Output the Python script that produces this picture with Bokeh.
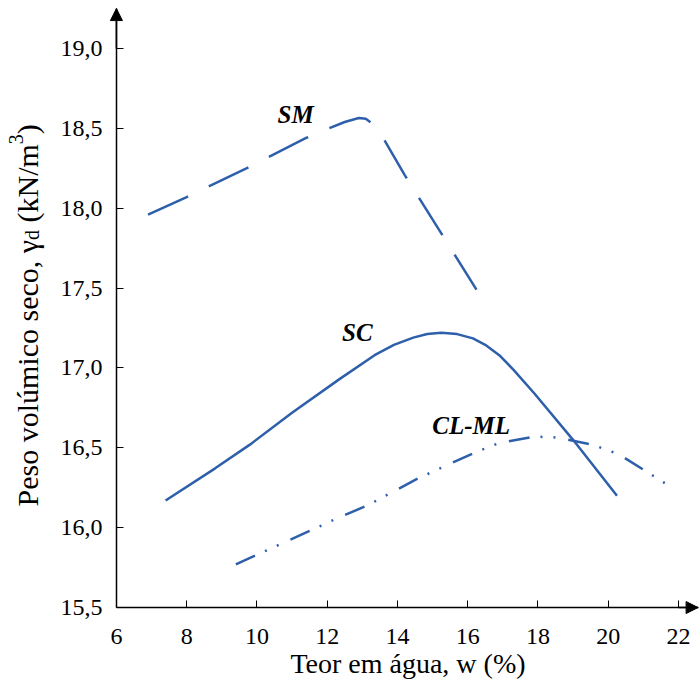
from bokeh.plotting import figure
from bokeh.models import Range1d, FixedTicker, CustomJSTickFormatter, Label, Arrow, NormalHead
from bokeh.embed import file_html
from bokeh.resources import INLINE
import math

# ---- data ----
sm_w = [6.9, 8.0, 9.7, 11.4, 12.05, 12.5, 12.9, 13.1, 13.25, 13.62, 14.2, 15.2, 16.25]
sm_g = [17.96, 18.07, 18.25, 18.44, 18.50, 18.54, 18.565, 18.56, 18.535, 18.43, 18.21, 17.86, 17.49]

sc_w = [7.4, 8.8, 9.8, 11.0, 12.35, 13.35, 13.9, 14.45, 14.85, 15.25, 15.7, 16.15, 16.5, 16.9, 17.3, 17.9, 19.0, 20.25]
sc_g = [16.17, 16.37, 16.52, 16.72, 16.93, 17.08, 17.145, 17.19, 17.213, 17.22, 17.212, 17.185, 17.145, 17.08, 16.99, 16.84, 16.55, 16.20]

clml_w = [9.4, 10.4, 11.5, 12.3, 13.15, 14.6, 16.2, 16.9, 17.9, 18.55, 19.55, 20.3, 21.1, 21.75]
clml_g = [15.77, 15.87, 15.98, 16.06, 16.14, 16.31, 16.47, 16.53, 16.57, 16.565, 16.52, 16.46, 16.35, 16.26]

x_ticks = [6, 8, 10, 12, 14, 16, 18, 20, 22]
y_ticks = [15.5, 16.0, 16.5, 17.0, 17.5, 18.0, 18.5, 19.0]

curve_names = ["SM", "SC", "CL-ML"]

BLUE = "#2E5FAA"
SERIF = "Liberation Serif"

W, H = 699, 681
PXX = 35.126   # px per unit on x
PXY = 159.73   # px per unit on y
XL = 2.70      # data x at canvas left edge
YT = 19.3005   # data y at canvas top edge

# axes origin / ends (data)
AX_X0, AX_X1 = 6, 22.56
AX_Y0, AX_Y1 = 15.5, 19.25

p = figure(width=W, height=H, output_backend="svg", toolbar_location=None,
           x_range=Range1d(XL, XL + W / PXX), y_range=Range1d(YT - H / PXY, YT),
           min_border=0, min_border_left=0, min_border_right=0,
           min_border_top=0, min_border_bottom=0)
p.outline_line_color = None
p.xgrid.visible = False
p.ygrid.visible = False
p.background_fill_color = "white"
p.border_fill_color = "white"

xa = p.xaxis[0]
ya = p.yaxis[0]
xa.fixed_location = AX_Y0
ya.fixed_location = AX_X0
xa.bounds = (AX_X0, AX_X1)
ya.bounds = (AX_Y0, AX_Y1)

for ax in (xa, ya):
    ax.axis_line_color = "black"
    ax.axis_line_width = 1.5
    ax.major_tick_in = 7
    ax.major_tick_out = 0
    ax.major_tick_line_color = "black"
    ax.major_tick_line_width = 1
    ax.minor_tick_line_color = None
    ax.major_label_text_font = SERIF
    ax.major_label_text_font_size = "24px"
    ax.major_label_text_color = "black"

xa.ticker = FixedTicker(ticks=x_ticks)
ya.ticker = FixedTicker(ticks=y_ticks)
ya.formatter = CustomJSTickFormatter(code="return tick.toFixed(1).replace('.', ',');")
xa.major_label_standoff = 21
ya.major_label_standoff = 14

# curves
p.line(sm_w, sm_g, line_color=BLUE, line_width=2.5, line_dash="44 23")
p.line(sc_w, sc_g, line_color=BLUE, line_width=2.5)
p.line(clml_w, clml_g, line_color=BLUE, line_width=2.5, line_dash="21 11 2 11 2 13")

# curve labels
lab_pos = [(11.10, 18.587), (12.86, 17.22), (16.10, 16.64)]
for name, (lx, ly) in zip(curve_names, lab_pos):
    p.add_layout(Label(x=lx, y=ly, text=name, text_font=SERIF, text_font_size="25px",
                       text_font_style="bold italic", text_align="center",
                       text_baseline="middle", text_color="black"))

# axis arrows
p.add_layout(Arrow(end=NormalHead(size=12, fill_color="black", line_color="black", line_width=1),
                   x_start=AX_X0, y_start=19.0, x_end=AX_X0, y_end=AX_Y1,
                   line_color="black", line_width=1.5))
p.add_layout(Arrow(end=NormalHead(size=12, fill_color="black", line_color="black", line_width=1),
                   x_start=22.0, y_start=AX_Y0, x_end=AX_X1, y_end=AX_Y0,
                   line_color="black", line_width=1.5))

# x axis title
p.add_layout(Label(x=14.3, y=YT - 663 / PXY, text="Teor em água, w (%)", text_font=SERIF,
                   text_font_size="28px", text_align="center", text_baseline="alphabetic",
                   text_color="black"))

# y axis title in pieces (subscript d, superscript 3)
y_start = YT - 506 / PXY
xb = XL + 27 / PXX
pieces = [
    ("Peso volúmico seco, γ", 0.0, 0, "30px"),
    ("d", 266.5, 4, "20px"),
    ("(kN/m", 284.0, 0, "30px"),
    ("3", 362.3, -12, "20px"),
    (")", 372.3, 0, "30px"),
]
for txt, off, dx, fs in pieces:
    p.add_layout(Label(x=xb + dx / PXX, y=y_start + off / PXY, text=txt, angle=math.pi / 2,
                       text_font=SERIF, text_font_size=fs, text_align="left",
                       text_baseline="alphabetic", text_color="black"))

open("out.html", "w").write(file_html(p, INLINE))
